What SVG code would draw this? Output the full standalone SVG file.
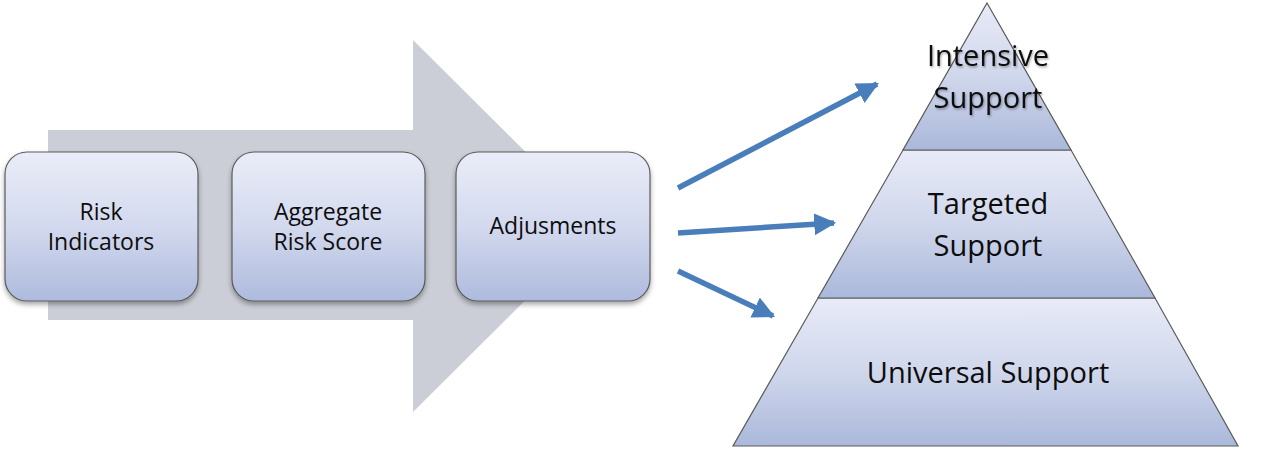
<svg xmlns="http://www.w3.org/2000/svg" width="1271" height="449" viewBox="0 0 1271 449">
<defs>
<linearGradient id="boxGrad" x1="0" y1="0" x2="0" y2="1">
<stop offset="0" stop-color="#eaedf8"/>
<stop offset="0.5" stop-color="#d3d9ee"/>
<stop offset="1" stop-color="#aebbdd"/>
</linearGradient>
<linearGradient id="pyrGrad" x1="0" y1="0" x2="0" y2="1">
<stop offset="0" stop-color="#e8ebf7"/>
<stop offset="0.5" stop-color="#d0d7ec"/>
<stop offset="1" stop-color="#aab8da"/>
</linearGradient>
<filter id="shadow" x="-10%" y="-10%" width="130%" height="130%">
<feDropShadow dx="0" dy="3" stdDeviation="2.5" flood-color="#000" flood-opacity="0.35"/>
</filter>
<filter id="txtShadow" x="-10%" y="-20%" width="120%" height="150%">
<feDropShadow dx="1" dy="1.5" stdDeviation="1" flood-color="#000" flood-opacity="0.35"/>
</filter>
<marker id="ah" viewBox="0 0 10 10" refX="9" refY="5" markerWidth="4" markerHeight="4" orient="auto" markerUnits="strokeWidth">
<path d="M0,0 L10,5 L0,10 Z" fill="#4a7ebb"/>
</marker>
</defs>
<style>
.box{fill:url(#boxGrad);stroke:#5a5a5a;stroke-width:1.2;filter:url(#shadow)}
.pyr{fill:url(#pyrGrad);stroke:#5a5a5a;stroke-width:1.2}
.lbl{font-family:"Open Sans","Liberation Sans",sans-serif;font-size:23px;fill:#0d0d0d;text-anchor:middle;font-weight:500}
.plbl{font-family:"Open Sans","Liberation Sans",sans-serif;font-size:29px;fill:#0d0d0d;text-anchor:middle}
.conn{stroke:#4a7ebb;stroke-width:5.5;fill:none;marker-end:url(#ah)}
</style>
<rect width="1271" height="449" fill="#ffffff"/>
<g id="bigArrow">
<path d="M48,130 L413,130 L413,40 L600,226 L413,412 L413,320 L48,320 Z" fill="#cbced6"/>
</g>
<g id="node-risk-indicators">
<rect class="box" x="5" y="152" width="193" height="149" rx="22" ry="22"/>
<text class="lbl" x="101" y="220">Risk</text>
<text class="lbl" x="101" y="250">Indicators</text>
</g>
<g id="node-aggregate-risk-score">
<rect class="box" x="232" y="152" width="193" height="149" rx="22" ry="22"/>
<text class="lbl" x="328" y="220">Aggregate</text>
<text class="lbl" x="328" y="250">Risk Score</text>
</g>
<g id="node-adjusments">
<rect class="box" x="456" y="152" width="194" height="149" rx="22" ry="22"/>
<text class="lbl" x="553" y="234">Adjusments</text>
</g>
<g id="node-universal-support">
<path class="pyr" d="M818,298 L1155,298 L1238,446 L733,446 Z"/>
<text class="plbl" x="988" y="383">Universal Support</text>
</g>
<g id="node-targeted-support">
<path class="pyr" d="M903,150 L1071,150 L1155,298 L818,298 Z"/>
<text class="plbl" x="988" y="214">Targeted</text>
<text class="plbl" x="988" y="256">Support</text>
</g>
<g id="node-intensive-support">
<path class="pyr" d="M987,3 L1071,150 L903,150 Z"/>
<g filter="url(#txtShadow)">
<text class="plbl" x="988" y="66">Intensive</text>
<text class="plbl" x="988" y="108">Support</text>
</g>
</g>
<g id="connectors">
<line class="conn" x1="678" y1="188" x2="877" y2="84"/>
<line class="conn" x1="678" y1="233" x2="834" y2="223"/>
<line class="conn" x1="678" y1="271" x2="773" y2="316"/>
</g>
</svg>
